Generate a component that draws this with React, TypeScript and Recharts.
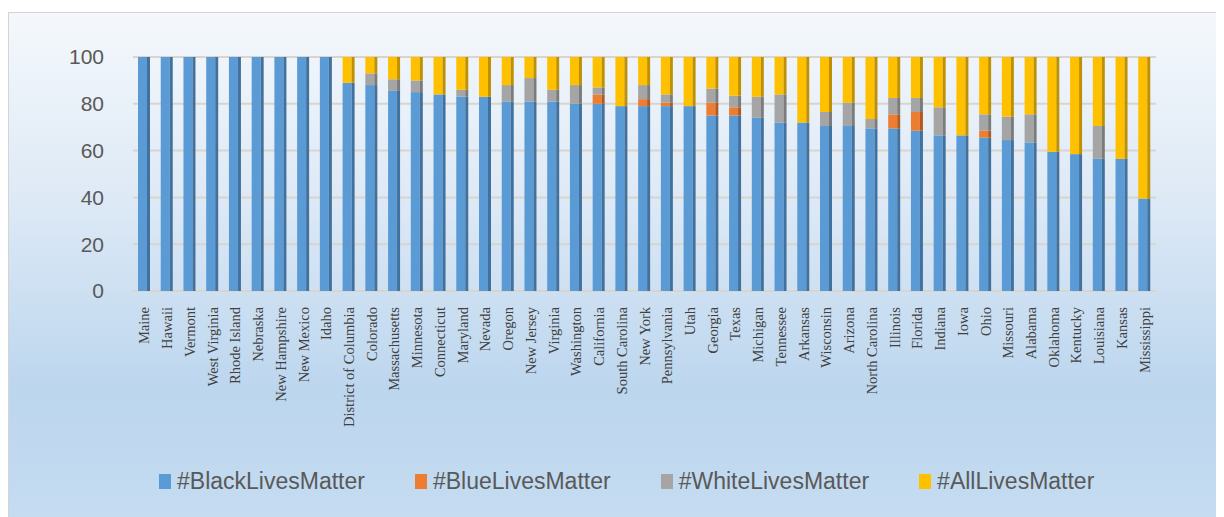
import React from "react";
import { BarChart, Bar, XAxis, YAxis, CartesianGrid } from "recharts";

const states = [
  "Maine", "Hawaii", "Vermont", "West Virginia", "Rhode Island", "Nebraska",
  "New Hampshire", "New Mexico", "Idaho", "District of Columbia", "Colorado",
  "Massachusetts", "Minnesota", "Connecticut", "Maryland", "Nevada", "Oregon",
  "New Jersey", "Virginia", "Washington", "California", "South Carolina",
  "New York", "Pennsylvania", "Utah", "Georgia", "Texas", "Michigan",
  "Tennessee", "Arkansas", "Wisconsin", "Arizona", "North Carolina", "Illinois",
  "Florida", "Indiana", "Iowa", "Ohio", "Missouri", "Alabama", "Oklahoma",
  "Kentucky", "Louisiana", "Kansas", "Mississippi",
];

const blackLives = [
  100, 100, 100, 100, 100, 100, 100, 100, 100, 89, 88, 85.5, 85, 84, 83, 83, 81,
  81, 81, 80, 80, 79, 79, 79, 79, 75, 75, 74, 72, 72, 70.5, 70.5, 69.5, 69.5,
  68.5, 66.5, 66.5, 65.5, 64.5, 63.5, 59.5, 58.5, 56.5, 56.5, 39.5,
];

const blueLives = [
  0, 0, 0, 0, 0, 0, 0, 0, 0, 0, 0, 0, 0, 0, 0, 0, 0, 0, 0, 0, 4, 0, 3, 1.5, 0,
  5.5, 3.5, 0, 0, 0, 0, 0, 0, 6, 8, 0, 0, 3, 0, 0, 0, 0, 0, 0, 0,
];

const whiteLives = [
  0, 0, 0, 0, 0, 0, 0, 0, 0, 0, 5, 5, 5, 0, 3, 0, 7, 10, 5, 8, 3, 0, 6, 3.5, 0,
  6, 5, 9, 12, 0, 6, 10, 4, 7, 6, 12, 0, 7, 10, 12, 0, 0, 14, 0, 0,
];

const allLives = [
  0, 0, 0, 0, 0, 0, 0, 0, 0, 11, 7, 9.5, 10, 16, 14, 17, 12, 9, 14, 12, 13, 21,
  12, 16, 21, 13.5, 16.5, 17, 16, 28, 23.5, 19.5, 26.5, 17.5, 17.5, 21.5, 33.5,
  24.5, 25.5, 24.5, 40.5, 41.5, 29.5, 43.5, 60.5,
];

const yTicks = [0, 20, 40, 60, 80, 100];

const series = [
  { key: "black", name: "#BlackLivesMatter", color: "#5b9bd5", side: "#41719c" },
  { key: "blue", name: "#BlueLivesMatter", color: "#ed7d31", side: "#ae5a21" },
  { key: "white", name: "#WhiteLivesMatter", color: "#a5a5a5", side: "#7b7b7b" },
  { key: "all", name: "#AllLivesMatter", color: "#ffc000", side: "#bf9000" },
];

const data = states.map((state, i) => ({
  state,
  black: blackLives[i],
  blue: blueLives[i],
  white: whiteLives[i],
  all: allLives[i],
}));

// bar with a darker right edge, a rough stand-in for Excel's 3D look
const makeShape = (color: string, side: string) => (props: any) => {
  const { x, y, width, height } = props;
  if (!height || height <= 0) return <g />;
  const sw = 3;
  return (
    <g>
      <rect x={x} y={y} width={width - sw} height={height} fill={color} />
      <rect x={x + width - sw} y={y} width={sw} height={height} fill={side} />
    </g>
  );
};

const StateTick = (props: any) => {
  const { x, y, payload } = props;
  const ty = y + 16;
  return (
    <text
      x={x}
      y={ty}
      dy="0.35em"
      transform={`rotate(-90, ${x}, ${ty})`}
      textAnchor="end"
      fontFamily="'Liberation Serif', 'DejaVu Serif', serif"
      fontSize={14.5}
      fill="#404040"
    >
      {payload.value}
    </text>
  );
};

export default function App() {
  return (
    <div
      style={{
        position: "relative",
        marginTop: 4,
        width: 1216,
        height: 505,
        borderTop: "1px solid #d4d4d4",
        borderLeft: "1px solid #d4d4d4",
        background:
          "linear-gradient(to bottom, #f4f8fc 0%, #dfeaf6 35%, #bcd6ee 75%, #c5dcf1 100%)",
        overflow: "hidden",
      }}
    >
      <BarChart
        width={1215}
        height={504}
        data={data}
        margin={{ top: 44, right: 68, left: 0, bottom: 0 }}
        barSize={12}
      >
        <CartesianGrid
          vertical={false}
          stroke="#d9d4cc"
          strokeWidth={2}
        />
        <XAxis
          dataKey="state"
          interval={0}
          height={226}
          axisLine={false}
          tickLine={false}
          tickSize={0}
          tickMargin={0}
          tick={<StateTick />}
        />
        <YAxis
          width={124}
          domain={[0, 100]}
          ticks={yTicks}
          axisLine={false}
          tickLine={false}
          tickSize={0}
          tickMargin={29}
          tick={{
            fontSize: 21,
            fill: "#595959",
            fontFamily: "'Liberation Sans', Arial, sans-serif",
          }}
        />
        {series.map((s) => (
          <Bar
            key={s.key}
            dataKey={s.key}
            name={s.name}
            stackId="a"
            fill={s.color}
            shape={makeShape(s.color, s.side)}
            isAnimationActive={false}
          />
        ))}
      </BarChart>
      <div
        style={{
          position: "absolute",
          top: 455,
          left: 150,
          display: "flex",
          gap: 50,
          alignItems: "center",
          fontFamily: "'Liberation Sans', Arial, sans-serif",
          fontSize: 23,
          color: "#595959",
          whiteSpace: "nowrap",
        }}
      >
        {series.map((s) => (
          <div key={s.key} style={{ display: "flex", alignItems: "center" }}>
            <span
              style={{
                display: "inline-block",
                width: 12,
                height: 15,
                background: s.color,
                marginRight: 6,
              }}
            />
            <span>{s.name}</span>
          </div>
        ))}
      </div>
    </div>
  );
}
